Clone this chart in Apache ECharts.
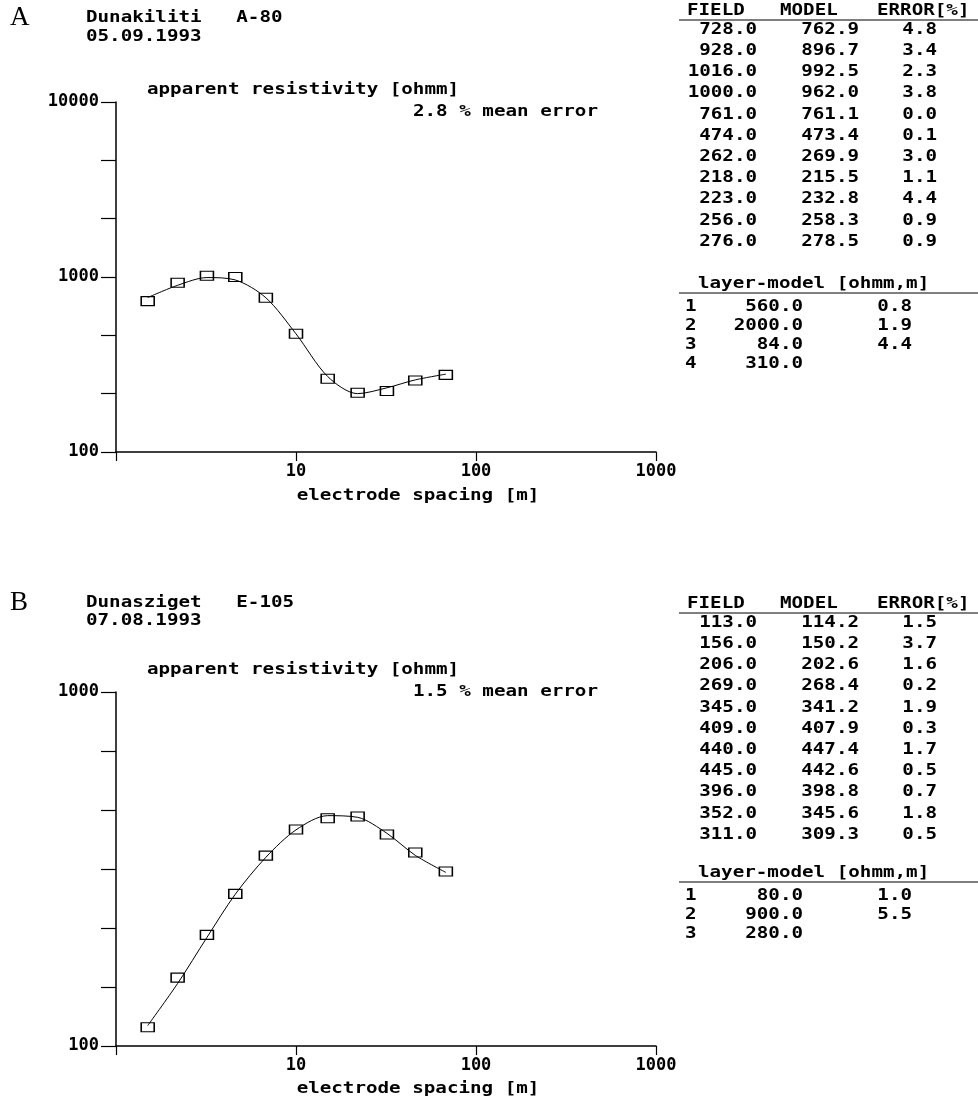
<!DOCTYPE html>
<html>
<head>
<meta charset="utf-8">
<script src="https://cdn.jsdelivr.net/npm/echarts@6/dist/echarts.min.js"></script>
<style>
html, body { margin: 0; background: #fff; }
#chart { width: 978px; height: 1101px; }
</style>
</head>
<body>
<div id="chart"></div>
<script>
// electrode spacings (AB/2, m), same for both soundings
const spacing = [1.5, 2.2, 3.2, 4.6, 6.8, 10, 15, 22, 32, 46, 68]

// sounding A - Dunakiliti A-80
const fieldA = [728.0, 928.0, 1016.0, 1000.0, 761.0, 474.0, 262.0, 218.0, 223.0, 256.0, 276.0]
const modelA = [762.9, 896.7, 992.5, 962.0, 761.1, 473.4, 269.9, 215.5, 232.8, 258.3, 278.5]
const errorA = [4.8, 3.4, 2.3, 3.8, 0.0, 0.1, 3.0, 1.1, 4.4, 0.9, 0.9]
const layerResA = [560.0, 2000.0, 84.0, 310.0]
const layerThkA = [0.8, 1.9, 4.4]

// sounding B - Dunasziget E-105
const fieldB = [113.0, 156.0, 206.0, 269.0, 345.0, 409.0, 440.0, 445.0, 396.0, 352.0, 311.0]
const modelB = [114.2, 150.2, 202.6, 268.4, 341.2, 407.9, 447.4, 442.6, 398.8, 345.6, 309.3]
const errorB = [1.5, 3.7, 1.6, 0.2, 1.9, 0.3, 1.7, 0.5, 0.7, 1.8, 0.5]
const layerResB = [80.0, 900.0, 280.0]
const layerThkB = [1.0, 5.5]

const xTicks = [1, 10, 100, 1000]

const FONT = 'bold 15px "DejaVu Sans Mono"'
const MONO = 'DejaVu Sans Mono'

function txt(x, y, s, align){
    return {
        type: 'text', x: x, y: y, scaleX: 1.28, silent: true,
        style: { text: s, font: FONT, fill: '#000', textAlign: align || 'left', textVerticalAlign: 'middle' }
    }
}
function hline(x1, x2, y){
    return { type: 'line', silent: true, shape: { x1: x1, y1: y, x2: x2, y2: y }, style: { stroke: '#000', lineWidth: 1.2 } }
}

// table of field/model/error plus layer model
function table(top, field, model, error, layerTop, res, thk){
    let els = []
    els.push(txt(687, top, 'FIELD'), txt(780, top, 'MODEL'), txt(877, top, 'ERROR[%]'))
    els.push(hline(679, 978, top + 9))
    field.forEach((f, i) => {
        let y = top + 19 + i * 21.2
        els.push(txt(757, y, f.toFixed(1), 'right'))
        els.push(txt(859, y, model[i].toFixed(1), 'right'))
        els.push(txt(937, y, error[i].toFixed(1), 'right'))
    })
    els.push(txt(698, layerTop, 'layer-model [ohmm,m]'))
    els.push(hline(679, 978, layerTop + 9))
    res.forEach((r, i) => {
        let y = layerTop + 23 + i * 19.2
        els.push(txt(685, y, String(i + 1)))
        els.push(txt(803, y, r.toFixed(1), 'right'))
        if (i < thk.length) els.push(txt(912, y, thk[i].toFixed(1), 'right'))
    })
    return els
}

let graphics = []
graphics.push({ type: 'text', x: 10, y: 18, silent: true,
    style: { text: 'A', font: '27px "Liberation Serif"', fill: '#000', textVerticalAlign: 'middle' } })
graphics.push(txt(86, 18, 'Dunakiliti   A-80'), txt(86, 37, '05.09.1993'))
graphics.push(txt(147, 90, 'apparent resistivity [ohmm]'), txt(413, 112, '2.8 % mean error'))
graphics.push(txt(418, 496, 'electrode spacing [m]', 'center'))
graphics = graphics.concat(table(11, fieldA, modelA, errorA, 284, layerResA, layerThkA))

graphics.push({ type: 'text', x: 10, y: 603, silent: true,
    style: { text: 'B', font: '27px "Liberation Serif"', fill: '#000', textVerticalAlign: 'middle' } })
graphics.push(txt(86, 603, 'Dunasziget   E-105'), txt(86, 621, '07.08.1993'))
graphics.push(txt(147, 670, 'apparent resistivity [ohmm]'), txt(413, 692, '1.5 % mean error'))
graphics.push(txt(418, 1089, 'electrode spacing [m]', 'center'))
graphics = graphics.concat(table(604, fieldB, modelB, errorB, 873, layerResB, layerThkB))

function decadeLabel(v){
    let k = Math.log10(v)
    if (Math.abs(k - Math.round(k)) > 1e-6) return ''
    return String(Math.round(Math.pow(10, Math.round(k))))
}

function xAxisCfg(gi){
    return {
        type: 'log', gridIndex: gi, logBase: 10,
        min: xTicks[0], max: xTicks[xTicks.length - 1],
        axisLine: { show: true, onZero: false, lineStyle: { color: '#000', width: 1.5 } },
        axisTick: { show: true, length: 9, lineStyle: { color: '#000', width: 1.2 } },
        axisLabel: {
            margin: 11, color: '#000', fontFamily: MONO, fontWeight: 'bold', fontSize: 17,
            formatter: v => v <= xTicks[0] ? '' : decadeLabel(v)
        },
        splitLine: { show: false }
    }
}
function yAxisCfg(gi, min, max, base){
    return {
        type: 'log', gridIndex: gi, logBase: base, min: min, max: max,
        axisLine: { show: true, onZero: false, lineStyle: { color: '#000', width: 1.5 } },
        axisTick: { show: true, length: 15, lineStyle: { color: '#000', width: 1.2 } },
        axisLabel: {
            margin: 17, color: '#000', fontFamily: MONO, fontWeight: 'bold', fontSize: 17,
            formatter: decadeLabel
        },
        splitLine: { show: false }
    }
}

function lineSeries(idx, model){
    return {
        type: 'line', xAxisIndex: idx, yAxisIndex: idx,
        data: spacing.map((s, i) => [s, model[i]]),
        symbol: 'none', smooth: 0.3,
        lineStyle: { color: '#000', width: 1 },
        z: 2, animation: false
    }
}
function pointSeries(idx, field){
    return {
        type: 'scatter', xAxisIndex: idx, yAxisIndex: idx,
        data: spacing.map((s, i) => [s, field[i]]),
        symbol: 'rect', symbolSize: [13, 9],
        itemStyle: { color: 'rgba(0,0,0,0)', borderColor: '#000', borderWidth: 1.3, opacity: 1 },
        z: 3, animation: false
    }
}

let myChart = echarts.init(document.getElementById('chart'), null, { renderer: 'canvas' })
let option = {
    backgroundColor: '#fff',
    animation: false,
    grid: [
        { left: 116, top: 102, width: 540, height: 350 },
        { left: 116, top: 692, width: 540, height: 354 }
    ],
    xAxis: [xAxisCfg(0), xAxisCfg(1)],
    yAxis: [
        yAxisCfg(0, 100, 10000, Math.pow(10, 1 / 3)),
        yAxisCfg(1, 100, 1000, Math.pow(10, 1 / 6))
    ],
    series: [
        lineSeries(0, modelA), pointSeries(0, fieldA),
        lineSeries(1, modelB), pointSeries(1, fieldB)
    ],
    graphic: graphics
}
myChart.setOption(option)
</script>
</body>
</html>
